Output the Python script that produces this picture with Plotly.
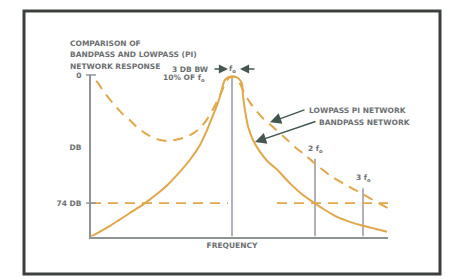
import plotly.graph_objects as go

# ---- data (x: frequency position units, y: response level units; axis origin at bottom-left) ----
lp_x = [5, 7, 12, 19, 24, 32, 39, 46, 54, 61, 69, 76, 84, 92, 101, 109, 116, 124, 131, 135,
        138, 141, 144, 147, 150, 153, 159, 165, 173, 180, 192, 204, 215, 224, 239, 254, 272, 284, 297]
lp_y = [158, 156, 148, 139, 133, 124, 118, 111, 105, 101, 98, 97, 98, 100, 104, 110, 119, 133, 148, 157,
        161, 162.5, 162, 159, 153, 146, 136, 128, 119, 113, 102, 91, 82, 74, 62, 53, 43, 36, 29]

bp_x = [0, 19, 39, 54, 74, 89, 99, 109, 116, 122, 127, 130, 132, 134, 137, 141, 145, 148, 151, 152,
        154, 157, 162, 169, 177, 186, 199, 211, 225, 234, 246, 259, 272, 284, 296]
bp_y = [0, 11, 24, 34, 50, 66, 78, 93, 108, 123, 136, 146, 154, 159, 161.5, 162.5, 162, 160, 155, 143,
        128, 112, 98, 86, 76, 68, 54, 43, 33, 27, 20, 15, 11, 8, 5]

harm_x = [141, 224, 272]
harm_top = [162, 79, 49]
harm_labels = ["", "2 f<sub>o</sub>", "3 f<sub>o</sub>"]

level_74 = 34
level_x_left = [0, 137]
level_x_right = [186, 297]

y_tick_vals = [164, 91, 34]
y_tick_text = ["0", "DB", "74 DB"]

title_lines = ["COMPARISON OF", "BANDPASS AND LOWPASS (PI)", "NETWORK RESPONSE"]

W, H = 451, 279
CURVE = "#e1a748"
TXT = "#6c6f71"
AX = "#8e9393"
ARR = "#435650"
FS = 7.5

fig = go.Figure()

# harmonic marker lines
hx, hy = [], []
for x, t in zip(harm_x, harm_top):
    hx += [x, x, None]
    hy += [0, t, None]
fig.add_trace(go.Scatter(x=hx, y=hy, mode="lines", line=dict(color="#b3b0bb", width=2),
                         hoverinfo="skip", cliponaxis=False))

# 74 dB level dashed
fig.add_trace(go.Scatter(x=level_x_left + [None] + level_x_right,
                         y=[level_74, level_74, None, level_74, level_74],
                         mode="lines", line=dict(color=CURVE, width=1.6, dash="10px,7px"),
                         hoverinfo="skip", cliponaxis=False))

# lowpass (dashed)
fig.add_trace(go.Scatter(x=lp_x, y=lp_y, mode="lines",
                         line=dict(color=CURVE, width=2, dash="10px,7px", shape="spline", smoothing=0.5),
                         hoverinfo="skip", cliponaxis=False))
# bandpass (solid)
fig.add_trace(go.Scatter(x=bp_x, y=bp_y, mode="lines",
                         line=dict(color=CURVE, width=2, shape="spline", smoothing=0.5),
                         hoverinfo="skip", cliponaxis=False))

# tick crosses on y axis
fig.add_trace(go.Scatter(x=[0, 0], y=[164, 34], mode="markers",
                         marker=dict(symbol="line-ew", size=7, line=dict(color=AX, width=1.5)),
                         hoverinfo="skip", cliponaxis=False))

fig.update_layout(
    width=W, height=H, margin=dict(l=0, r=0, t=0, b=0),
    paper_bgcolor="#ffffff", plot_bgcolor="rgba(0,0,0,0)", showlegend=False,
    xaxis=dict(domain=[91 / W, 388 / W], range=[0, 297], showgrid=False, zeroline=False,
               showline=True, linecolor=AX, linewidth=2,
               tickmode="array", tickvals=[141], ticktext=["<b>FREQUENCY</b>"], ticks="",
               tickfont=dict(family="DejaVu Sans", size=FS, color=TXT)),
    yaxis=dict(domain=[43 / H, 207 / H], range=[0, 164], showgrid=False, zeroline=False,
               showline=True, linecolor=AX, linewidth=2,
               tickmode="array", tickvals=y_tick_vals, ticktext=["<b>%s</b>" % t for t in y_tick_text],
               ticks="", ticklabelstandoff=6,
               tickfont=dict(family="DejaVu Sans", size=FS, color=TXT)),
    font=dict(family="DejaVu Sans", size=FS, color=TXT),
)

# frame
fig.add_shape(type="rect", xref="paper", yref="paper",
              x0=24 / W, x1=440 / W, y0=1 - 274 / H, y1=1 - 7 / H,
              line=dict(color="#3c413d", width=3), fillcolor="rgba(0,0,0,0)", layer="below")

def txt(px, py, s, xanchor="left", size=FS):
    fig.add_annotation(x=px / W, y=1 - py / H, xref="paper", yref="paper", text="<b>%s</b>" % s,
                       showarrow=False, xanchor=xanchor, yanchor="middle",
                       font=dict(family="DejaVu Sans", size=size, color=TXT))

def arrow(tx, ty, dx, dy, size=1.3):
    fig.add_annotation(x=tx / W, y=1 - ty / H, xref="paper", yref="paper", ax=dx, ay=dy,
                       text="", showarrow=True, arrowhead=2, arrowsize=size, arrowwidth=1.4, arrowcolor=ARR)

# title lines
for i, line in enumerate(title_lines):
    txt(68, 40 + i * 11.5, line)

# bandwidth notes
txt(211, 66, "3 DB BW", xanchor="right")
txt(207, 75, "10% OF f<sub>o</sub>", xanchor="right")
txt(232, 66, "f<sub>o</sub>", xanchor="center")
arrow(228, 66, -15, 0)
arrow(240, 66, 16, 0)

# harmonic labels
for x, t, s in zip(harm_x, harm_top, harm_labels):
    if s:
        txt(x + 91, 236 - t - 10, s, xanchor="center")

# callouts
txt(307, 108, "LOWPASS PI NETWORK")
txt(317, 120, "BANDPASS NETWORK")
arrow(270, 120, 36, -13, 1.6)
arrow(255, 140, 62, -21, 1.6)

fig.write_html("out.html", config={"displayModeBar": False})

with open("out.html", encoding="utf-8") as f:
    html = f.read()
html = html.replace("<head>", "<head><style>html,body{margin:0;padding:0;overflow:hidden;}</style>", 1)
with open("out.html", "w", encoding="utf-8") as f:
    f.write(html)
